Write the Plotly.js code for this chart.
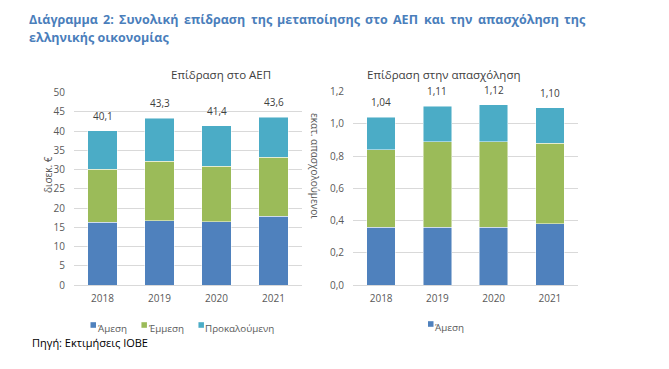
<!DOCTYPE html>
<html><head><meta charset="utf-8">
<script src="https://cdn.plot.ly/plotly-3.0.1.min.js"></script>
<style>html,body{margin:0;padding:0;background:#fff}#chart{width:669px;height:369px}</style>
</head><body><div id="chart"></div>
<script>
const years = ['2018', '2019', '2020', '2021'];
const seriesNames = ['Άμεση', 'Έμμεση', 'Προκαλούμενη'];
const gdpDirect = [16.3, 16.7, 16.5, 17.9];
const gdpIndirect = [13.8, 15.5, 14.4, 15.3];
const gdpInduced = [10.0, 11.1, 10.5, 10.4];
const gdpTotals = [40.1, 43.3, 41.4, 43.6];
const empDirect = [0.36, 0.36, 0.36, 0.38];
const empIndirect = [0.48, 0.53, 0.53, 0.50];
const empInduced = [0.20, 0.22, 0.23, 0.22];
const empTotals = [1.04, 1.11, 1.12, 1.10];
const gdpTickVals = [0, 5, 10, 15, 20, 25, 30, 35, 40, 45, 50];
const empTickVals = [0, 0.2, 0.4, 0.6, 0.8, 1.0, 1.2];
const titleLine1 = 'Διάγραμμα 2: Συνολική επίδραση της μεταποίησης στο ΑΕΠ και την απασχόληση της';
const titleLine2 = 'ελληνικής οικονομίας';
const sub1 = 'Επίδραση στο ΑΕΠ';
const sub2 = 'Επίδραση στην απασχόληση';
const yTitle1 = 'δισεκ. €';
const yTitle2 = 'εκατ. απασχολούμενοι';
const sourceText = 'Πηγή: Εκτιμήσεις ΙΟΒΕ';

const colors = ['#4f81bd', '#9bbb59', '#4bacc6'];
const W = 669, H = 369;
const FONT = '"Open Sans", sans-serif';
const px = v => v / W, py = v => 1 - v / H;

const gdpSeries = [gdpDirect, gdpIndirect, gdpInduced];
const empSeries = [empDirect, empIndirect, empInduced];
const traces = [];
gdpSeries.forEach((s, i) => traces.push({
  type: 'bar', x: years, y: s, name: seriesNames[i], xaxis: 'x', yaxis: 'y',
  marker: {color: colors[i], line: {color: 'rgba(255,255,255,0.6)', width: 0.8}},
  showlegend: false, hoverinfo: 'skip'
}));
empSeries.forEach((s, i) => traces.push({
  type: 'bar', x: years, y: s, name: seriesNames[i], xaxis: 'x2', yaxis: 'y2',
  marker: {color: colors[i], line: {color: 'rgba(255,255,255,0.6)', width: 0.8}},
  showlegend: false, hoverinfo: 'skip'
}));

const fmt = (v, d) => v.toFixed(d).replace('.', ',');
const ann = [];
const shapes = [];
gdpTotals.forEach((t, i) => ann.push({xref: 'x', yref: 'y', x: years[i], y: t, yshift: 15, text: fmt(t, 1), showarrow: false, font: {family: FONT, size: 10, color: '#404040'}}));
empTotals.forEach((t, i) => ann.push({xref: 'x2', yref: 'y2', x: years[i], y: t, yshift: 15, text: fmt(t, 2), showarrow: false, font: {family: FONT, size: 10, color: '#404040'}}));
ann.push({xref: 'paper', yref: 'paper', x: px(168.5), y: py(65), text: sub1, showarrow: false, font: {family: FONT, size: 11.5, color: '#404040'}});
ann.push({xref: 'paper', yref: 'paper', x: px(443.5), y: py(65), text: sub2, showarrow: false, font: {family: FONT, size: 11.5, color: '#404040'}});
ann.push({xref: 'paper', yref: 'paper', x: px(39), y: py(175), text: yTitle1, textangle: -90, showarrow: false, font: {family: FONT, size: 10, color: '#595959'}});
ann.push({xref: 'paper', yref: 'paper', x: px(315), y: py(166), text: yTitle2, textangle: 90, showarrow: false, font: {family: FONT, size: 10, color: '#595959'}});
ann.push({xref: 'paper', yref: 'paper', x: px(30), y: py(352), xanchor: 'left', text: sourceText, showarrow: false, font: {family: FONT, size: 11, color: '#000000'}});

// compact legends (square + label), laid out by measured text widths
const LFS = 9.8;
const cv = document.createElement('canvas').getContext('2d');
function addLegend(startX, yc, idxs) {
  cv.font = LFS + 'px "Open Sans"';
  let x = startX;
  idxs.forEach(i => {
    shapes.push({type: 'rect', xref: 'paper', yref: 'paper', x0: px(x), x1: px(x + 5.5), y0: py(yc + 2.8), y1: py(yc - 2.8), fillcolor: colors[i], line: {width: 0}});
    ann.push({xref: 'paper', yref: 'paper', x: px(x + 6), y: py(yc), yanchor: 'middle', yshift: -3, xanchor: 'left', text: seriesNames[i], showarrow: false, borderpad: 0, font: {family: FONT, size: LFS, color: '#595959'}});
    x += 6 + cv.measureText(seriesNames[i]).width + 16;
  });
}
addLegend(90.5, 325, [0, 1, 2]);
addLegend(428, 324, [0]);

// justified title line 1
const TFS = 12.5;
const tfont = {family: FONT, size: TFS, color: '#4a7ebb', weight: 'bold'};
cv.font = 'bold ' + TFS + 'px "Open Sans"';
const words = titleLine1.split(' ');
const widths = words.map(w => cv.measureText(w).width);
const left = 27, right = 583;
const gap = (right - left - widths.reduce((a, b) => a + b, 0)) / (words.length - 1);
let cx = left;
words.forEach((w, i) => {
  ann.push({xref: 'paper', yref: 'paper', x: px(cx), y: py(9), xanchor: 'left', text: '<b>' + w + '</b>', showarrow: false, font: tfont});
  cx += widths[i] + gap;
});
ann.push({xref: 'paper', yref: 'paper', x: px(left), y: py(27), xanchor: 'left', text: '<b>' + titleLine2 + '</b>', showarrow: false, font: tfont});

const tickFont = {family: FONT, size: 10, color: '#595959'};
const layout = {
  width: W, height: H, margin: {l: 0, r: 0, t: 0, b: 0},
  paper_bgcolor: '#fff', plot_bgcolor: '#fff',
  barmode: 'stack', bargap: 0.49, separators: ',.',
  font: {family: FONT},
  showlegend: false,
  xaxis: {domain: [px(74), px(302)], anchor: 'y', showline: true, linecolor: '#d9d9d9', linewidth: 1, ticks: '', tickfont: tickFont, ticklabelstandoff: 4, fixedrange: true},
  yaxis: {domain: [84 / H, 276.3 / H], anchor: 'x', range: [0, 50], tickvals: gdpTickVals, showgrid: true, gridcolor: '#d9d9d9', zeroline: false, showline: false, tickfont: tickFont, ticklabelstandoff: 8, fixedrange: true},
  xaxis2: {domain: [px(353), px(578)], anchor: 'y2', showline: true, linecolor: '#d9d9d9', linewidth: 1, ticks: '', tickfont: tickFont, ticklabelstandoff: 4, fixedrange: true},
  yaxis2: {domain: [84 / H, 277.3 / H], anchor: 'x2', range: [0, 1.2], tickvals: empTickVals, tickformat: '.1f', showgrid: true, gridcolor: '#d9d9d9', zeroline: false, showline: false, tickfont: tickFont, ticklabelstandoff: 8, fixedrange: true},
  shapes: shapes,
  annotations: ann
};
Plotly.newPlot('chart', traces, layout, {displayModeBar: false, staticPlot: true});
</script></body></html>
